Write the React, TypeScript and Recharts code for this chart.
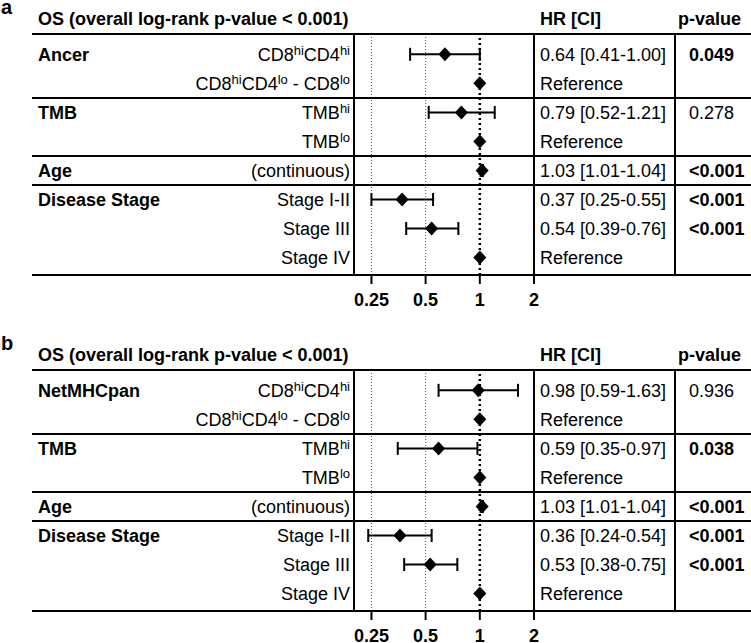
import React from 'react';
import { ScatterChart, Scatter, XAxis, YAxis, ErrorBar, ReferenceLine } from 'recharts';

const FONT = '"Liberation Sans", Arial, Helvetica, sans-serif';

const title = 'OS (overall log-rank p-value < 0.001)';
const rowLabels = [
  'CD8^{hi}CD4^{hi}',
  'CD8^{hi}CD4^{lo} - CD8^{lo}',
  'TMB^{hi}',
  'TMB^{lo}',
  '(continuous)',
  'Stage I-II',
  'Stage III',
  'Stage IV',
];
const rowGroup = [0, 0, 1, 1, 2, 3, 3, 3];
const xTicks = [0.25, 0.5, 1, 2];

// panel a
const groupsA = ['Ancer', 'TMB', 'Age', 'Disease Stage'];
const hrA = [0.64, 1, 0.79, 1, 1.03, 0.37, 0.54, 1];
const loA = [0.41, null, 0.52, null, 1.01, 0.25, 0.39, null];
const hiA = [1.0, null, 1.21, null, 1.04, 0.55, 0.76, null];
const pA = ['0.049', '', '0.278', '', '<0.001', '<0.001', '<0.001', ''];

// panel b
const groupsB = ['NetMHCpan', 'TMB', 'Age', 'Disease Stage'];
const hrB = [0.98, 1, 0.59, 1, 1.03, 0.36, 0.53, 1];
const loB = [0.59, null, 0.35, null, 1.01, 0.24, 0.38, null];
const hiB = [1.63, null, 0.97, null, 1.04, 0.54, 0.75, null];
const pB = ['0.936', '', '0.038', '', '<0.001', '<0.001', '<0.001', ''];

const Y_TOP = -0.7;
const Y_BOTTOM = 7.6;
const BASE = 6.5; // baseline offset from row centre

const txt = { fontFamily: FONT, fontSize: 18, fill: '#000' };
const bold = { ...txt, fontWeight: 700 };

// "CD8^{hi}" -> CD8 with superscript hi
const withSup = (s: string) => {
  const parts = s.split(/(\^\{[^}]*\})/).filter((p) => p !== '');
  let raised = false;
  return parts.map((p, k) => {
    if (p.startsWith('^{')) {
      const dy = raised ? undefined : -6;
      raised = true;
      return (
        <tspan key={k} fontSize={13} dy={dy}>
          {p.slice(2, -1)}
        </tspan>
      );
    }
    const dy = raised ? 6 : undefined;
    raised = false;
    return (
      <tspan key={k} dy={dy}>
        {p}
      </tspan>
    );
  });
};

const Diamond = (props: any) => {
  const { cx, cy } = props;
  return (
    <polygon
      points={`${cx},${cy - 7} ${cx + 6.5},${cy} ${cx},${cy + 7} ${cx - 6.5},${cy}`}
      fill="#000"
    />
  );
};

type PanelProps = {
  letter: string;
  groups: string[];
  hr: number[];
  lo: (number | null)[];
  hi: (number | null)[];
  p: string[];
};

const Panel = ({ letter, groups, hr, lo, hi, p }: PanelProps) => {
  const rows = hr.map((v, i) => {
    const l = lo[i];
    const h = hi[i];
    return {
      pos: i,
      hr: v,
      err: l == null || h == null ? null : [v - l, h - v],
      text: l == null || h == null ? 'Reference' : `${v.toFixed(2)} [${l.toFixed(2)}-${h.toFixed(2)}]`,
    };
  });
  const est = rows.filter((r) => r.err);
  const ref = rows.filter((r) => !r.err);

  const seps = [Y_TOP];
  rowGroup.forEach((g, i) => {
    if (i > 0 && g !== rowGroup[i - 1]) seps.push(i - 0.5);
  });
  seps.push(Y_BOTTOM);
  const ticks = [...seps, ...rows.map((r) => r.pos)].sort((a, b) => a - b);
  const isSep = (v: number) => seps.some((s) => Math.abs(s - v) < 1e-6);

  const leftTick = (props: any) => {
    const { x, y, payload } = props;
    const v = payload.value;
    if (isSep(v)) {
      return (
        <g>
          {v === Y_TOP && (
            <>
              <text x={1} y={y - 20} {...bold} fontSize={20}>
                {letter}
              </text>
              <text x={38} y={y - 9} {...bold}>
                {title}
              </text>
            </>
          )}
          <line x1={32} x2={751} y1={y} y2={y} stroke="#000" strokeWidth={2} />
        </g>
      );
    }
    const g = rowGroup[v];
    const first = rowGroup.indexOf(g) === v;
    return (
      <g>
        {first && (
          <text x={38} y={y + BASE} {...bold}>
            {groups[g]}
          </text>
        )}
        <text x={x} y={y + BASE} textAnchor="end" {...txt}>
          {withSup(rowLabels[v])}
        </text>
      </g>
    );
  };

  const hrTick = (props: any) => {
    const { x, y, payload } = props;
    const v = payload.value;
    if (v === Y_TOP)
      return (
        <text x={x} y={y - 9} {...bold}>
          HR [CI]
        </text>
      );
    if (isSep(v)) return <g />;
    return (
      <text x={x} y={y + BASE} {...txt}>
        {rows[v].text}
      </text>
    );
  };

  const pTick = (props: any) => {
    const { x, y, payload } = props;
    const v = payload.value;
    if (v === Y_TOP)
      return (
        <text x={x - 11} y={y - 9} {...bold}>
          p-value
        </text>
      );
    if (isSep(v) || !p[v]) return <g />;
    const s = p[v];
    const strong = s.startsWith('<') || parseFloat(s) < 0.05;
    return (
      <text x={x} y={y + BASE} {...(strong ? bold : txt)}>
        {s}
      </text>
    );
  };

  const xTick = (props: any) => {
    const { x, payload } = props;
    return (
      <text x={x} y={306} textAnchor="middle" {...bold}>
        {payload.value}
      </text>
    );
  };

  const yCommon = {
    type: 'number' as const,
    dataKey: 'pos',
    domain: [Y_TOP, Y_BOTTOM],
    reversed: true,
    ticks,
    interval: 0 as const,
    tickSize: 0,
    tickLine: false,
    allowDataOverflow: true,
    axisLine: { stroke: '#000', strokeWidth: 2 },
  };

  return (
    <ScatterChart width={751} height={312} margin={{ top: 34, right: 0, bottom: 0, left: 0 }}>
      <XAxis
        type="number"
        dataKey="hr"
        scale="log"
        domain={[0.2, 2]}
        ticks={xTicks}
        interval={0}
        allowDataOverflow
        axisLine={false}
        tickLine={{ stroke: '#000', strokeWidth: 2 }}
        tickSize={9}
        tickMargin={10}
        height={37}
        tick={xTick}
      />
      <YAxis yAxisId="left" {...yCommon} width={354} tickMargin={4} tick={leftTick} />
      <YAxis yAxisId="hr" orientation="right" {...yCommon} width={141} tickMargin={6} tick={hrTick} />
      <YAxis yAxisId="p" orientation="right" {...yCommon} width={76} tickMargin={14} tick={pTick} />
      <ReferenceLine yAxisId="left" x={0.25} stroke="#555" strokeWidth={1} strokeDasharray="1 2" />
      <ReferenceLine yAxisId="left" x={0.5} stroke="#555" strokeWidth={1} strokeDasharray="1 2" />
      <ReferenceLine yAxisId="left" x={1} stroke="#000" strokeWidth={2.5} strokeDasharray="2 3" />
      <Scatter yAxisId="left" data={est} shape={Diamond} isAnimationActive={false}>
        <ErrorBar dataKey="err" direction="x" width={6.5} stroke="#000" strokeWidth={2} isAnimationActive={false} />
      </Scatter>
      <Scatter yAxisId="left" data={ref} shape={Diamond} isAnimationActive={false} />
    </ScatterChart>
  );
};

export default function App() {
  return (
    <div
      style={{
        position: 'absolute',
        left: 0,
        top: 0,
        width: 751,
        height: 643,
        overflow: 'hidden',
        background: '#fff',
        fontFamily: FONT,
      }}
    >
      <div style={{ position: 'absolute', left: 0, top: 0 }}>
        <Panel letter="a" groups={groupsA} hr={hrA} lo={loA} hi={hiA} p={pA} />
      </div>
      <div style={{ position: 'absolute', left: 0, top: 336 }}>
        <Panel letter="b" groups={groupsB} hr={hrB} lo={loB} hi={hiB} p={pB} />
      </div>
    </div>
  );
}
